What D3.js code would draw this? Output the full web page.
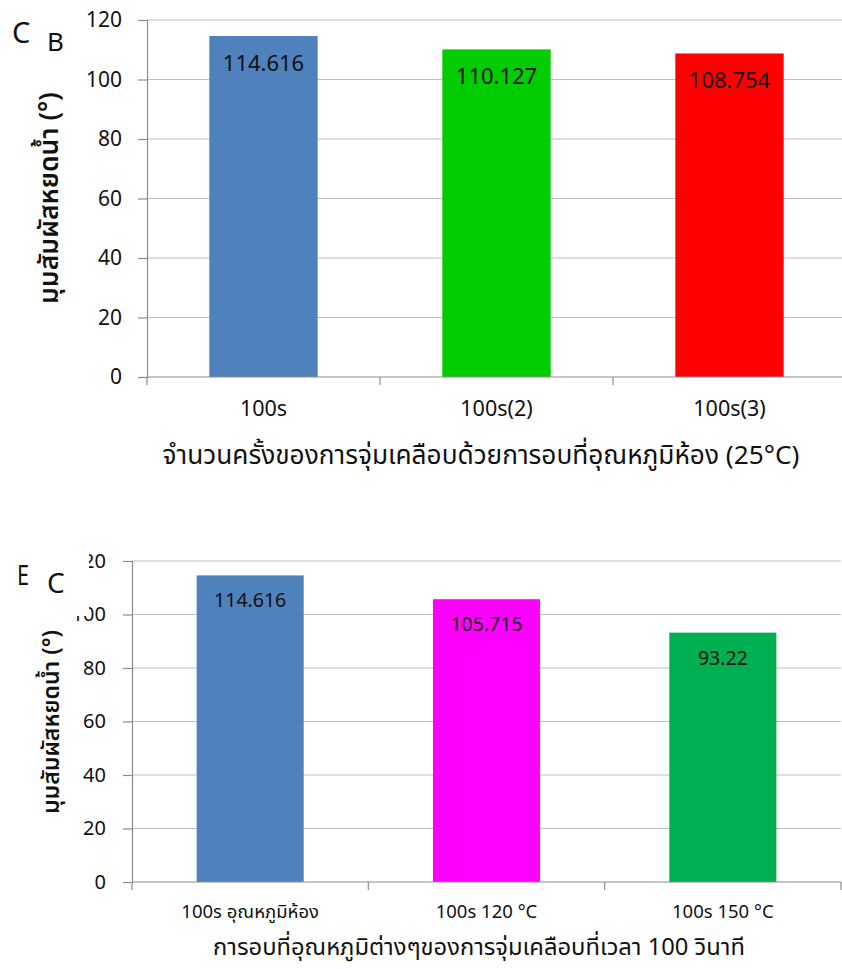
<!DOCTYPE html>
<html><head><meta charset="utf-8">
<script src="https://cdn.jsdelivr.net/npm/d3@7/dist/d3.min.js"></script>
<style>
html,body{margin:0;padding:0;background:#fff;}
svg{display:block;}
text{font-family:"Noto Sans","Noto Sans Thai","Open Sans",sans-serif;fill:#111;}
</style></head>
<body>
<svg id="c" width="842" height="969"></svg>
<script>
// ---- data ----
const catsB = ["100s", "100s(2)", "100s(3)"];
const valsB = [114.616, 110.127, 108.754];
const labelsB = ["114.616", "110.127", "108.754"];
const colorsB = ["#4F81BD", "#00CC00", "#FF0000"];

const catsC = ["100s อุณหภูมิห้อง", "100s 120 °C", "100s 150 °C"];
const valsC = [114.616, 105.715, 93.22];
const labelsC = ["114.616", "105.715", "93.22"];
const colorsC = ["#4F81BD", "#FF00FF", "#00B050"];

const yTicks = [0, 20, 40, 60, 80, 100, 120];
const yTitle = "มุมสัมผัสหยดน้ำ (°)";
const xTitleB = "จำนวนครั้งของการจุ่มเคลือบด้วยการอบที่อุณหภูมิห้อง (25°C)";
const xTitleC = "การอบที่อุณหภูมิต่างๆของการจุ่มเคลือบที่เวลา 100 วินาที";

const svg = d3.select("#c");

function fitText(sel, w) {
  const n = sel.node();
  let fs = parseFloat(sel.attr("font-size"));
  const len = n.getComputedTextLength();
  if (len > 0) sel.attr("font-size", (fs * w / len).toFixed(2));
}

function drawChart(o) {
  const g = svg.append("g");
  const y = d3.scaleLinear().domain([0, 120]).range([o.y0, o.y1]);
  const x = d3.scaleBand().domain(o.cats).range([o.x0, o.x1])
    .paddingInner(o.pad).paddingOuter(o.pad / 2);

  // gridlines
  g.append("g").selectAll("line").data(yTicks.filter(d => d > 0)).join("line")
    .attr("x1", o.x0).attr("x2", o.x1)
    .attr("y1", d => y(d)).attr("y2", d => y(d))
    .attr("stroke", "#BEBEBE").attr("stroke-width", 1.2);

  // bars
  g.append("g").selectAll("rect").data(o.vals).join("rect")
    .attr("x", (d, i) => x(o.cats[i])).attr("width", x.bandwidth())
    .attr("y", d => y(d)).attr("height", d => y(0) - y(d))
    .attr("fill", (d, i) => o.colors[i]);

  // y axis
  const ya = d3.axisLeft(y).tickValues(yTicks).tickSize(9).tickPadding(o.tickPad);
  const yg = g.append("g").attr("transform", `translate(${o.x0},0)`).call(ya);
  yg.select(".domain").attr("stroke", "#8C8C8C").attr("stroke-width", 1.2);
  yg.selectAll(".tick line").attr("stroke", "#8C8C8C").attr("stroke-width", 1.2);
  yg.selectAll(".tick text").attr("font-size", o.tickFs)
    .style("font-family", '"Noto Sans",sans-serif').attr("fill", "#222");

  // x axis line + ticks at band edges
  const step = x.step();
  const edges = d3.range(o.cats.length + 1).map(i => o.x0 + i * step);
  g.append("line").attr("x1", o.x0).attr("x2", o.x1).attr("y1", y(0)).attr("y2", y(0))
    .attr("stroke", "#8C8C8C").attr("stroke-width", 1.2);
  g.append("g").selectAll("line").data(edges).join("line")
    .attr("x1", d => d).attr("x2", d => d).attr("y1", y(0)).attr("y2", y(0) + 8)
    .attr("stroke", "#8C8C8C").attr("stroke-width", 1.2);

  // category labels
  g.append("g").selectAll("text").data(o.cats).join("text")
    .attr("x", d => x(d) + x.bandwidth() / 2).attr("y", o.catY)
    .attr("text-anchor", "middle").attr("font-size", o.catFs).attr("fill", "#222")
    .text(d => d);

  // value labels
  g.append("g").selectAll("text").data(o.vals).join("text")
    .attr("x", (d, i) => x(o.cats[i]) + x.bandwidth() / 2)
    .attr("y", d => y(d) + o.lblOff)
    .attr("text-anchor", "middle").attr("font-size", o.lblFs).attr("fill", "#111")
    .text((d, i) => o.labels[i]);

  // y title
  g.append("text").attr("transform", `translate(${o.ytX},${o.ytY}) rotate(-90)`)
    .attr("text-anchor", "middle").attr("font-size", o.ytFs).attr("font-weight", 600)
    .attr("dominant-baseline", "central").text(yTitle)
    .call(s => fitText(s, o.ytW));

  // x title
  g.append("text").attr("x", o.xtX).attr("y", o.xtY).attr("text-anchor", "middle")
    .attr("font-size", o.xtFs).attr("fill", "#111").text(o.xTitle)
    .call(s => fitText(s, o.xtW));
  return g;
}

drawChart({
  cats: catsB, vals: valsB, labels: labelsB, colors: colorsB,
  x0: 147, x1: 846, y0: 377, y1: 20, pad: 0.535,
  tickFs: 21, tickPad: 16, catFs: 21.5, catY: 416, lblFs: 22, lblOff: 35,
  ytX: 48, ytY: 198, ytFs: 21, ytW: 212,
  xTitle: xTitleB, xtX: 481, xtY: 464, xtFs: 24, xtW: 637
});

drawChart({
  cats: catsC, vals: valsC, labels: labelsC, colors: colorsC,
  x0: 132, x1: 841, y0: 882, y1: 561, pad: 0.547,
  tickFs: 20, tickPad: 17, catFs: 18.5, catY: 918, lblFs: 19.5, lblOff: 32,
  ytX: 50, ytY: 722, ytFs: 19, ytW: 184,
  xTitle: xTitleC, xtX: 479, xtY: 955, xtFs: 22, xtW: 532
});

// panel letters
svg.append("text").attr("x", 12).attr("y", 43).attr("font-size", 29).text("C");
svg.append("text").attr("x", 47).attr("y", 51).attr("font-size", 26).text("B");

svg.append("rect").attr("x", 30).attr("y", 546).attr("width", 59).attr("height", 70).attr("fill", "#fff");
svg.append("text").attr("x", 17).attr("y", 585).attr("font-size", 28).text("E")
  .attr("textLength", 12).attr("lengthAdjust", "spacingAndGlyphs");
svg.append("text").attr("x", 47).attr("y", 593).attr("font-size", 28).text("C");
</script>
</body></html>
